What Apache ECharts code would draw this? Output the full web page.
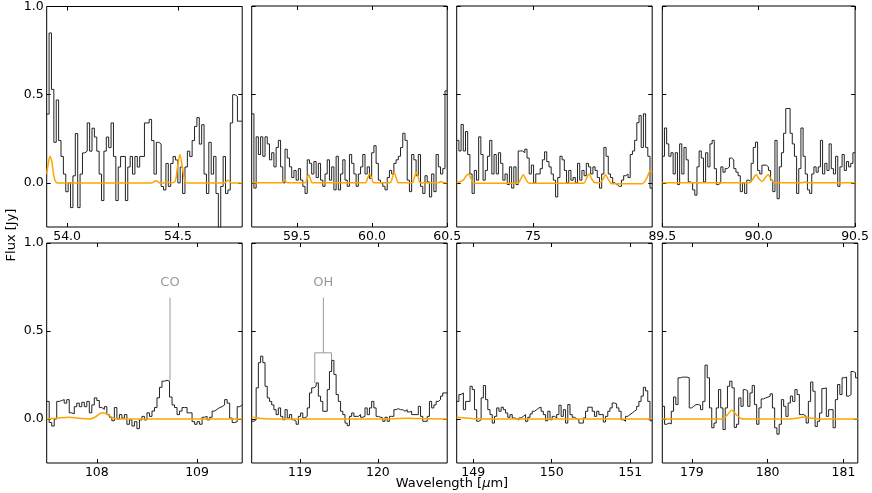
<!DOCTYPE html>
<html>
<head>
<meta charset="utf-8">
<script src="https://cdn.jsdelivr.net/npm/echarts@6/dist/echarts.min.js"></script>
<style>
  html, body { margin: 0; padding: 0; background: #fff; }
  #chart { width: 872px; height: 493px; }
</style>
</head>
<body>
<div id="chart"></div>
<script>
// ============ 数据 ============
// wavelength range of each panel (µm), row by row
const panelRanges = [
  [53.908, 54.79], [59.2, 60.5], [72.05, 79.6], [89.5, 90.5],
  [107.5, 109.45], [118.38, 120.89], [148.79, 151.28], [178.61, 181.19]
];
const xTickValues = [
  [54.0, 54.5], [59.5, 60.0, 60.5], [75], [89.5, 90.0, 90.5],
  [108, 109], [119, 120], [149, 150, 151], [179, 180, 181]
];
const xTickDigits = [1, 1, 0, 1, 0, 0, 0, 0];
const yTickValues = [0.0, 0.5, 1.0];

// observed flux per bin (Jy)
const flux1 = [0.39,0.85,0.53,0.23,0.47,0.24,0.15,0.05,-0.05,0.00,-0.14,0.04,0.28,-0.14,0.05,0.17,0.18,0.34,0.18,0.31,
  0.26,0.18,0.05,-0.10,0.18,0.26,0.20,0.34,0.15,-0.10,0.09,0.15,0.15,-0.10,0.09,0.15,0.05,0.15,0.09,0.15,
  0.15,0.34,0.34,0.36,0.24,0.05,0.23,0.22,-0.02,-0.04,0.11,-0.02,0.11,0.15,0.13,0.00,0.09,-0.06,0.09,0.18,
  0.15,0.24,0.32,0.37,0.22,0.33,0.05,-0.06,0.23,0.05,0.15,-0.06,-0.30,-0.02,0.15,-0.06,-0.04,0.34,0.50,0.49,0.35,0.35];
const flux2 = [0.39,-0.03,0.26,0.16,0.26,0.15,0.26,0.22,0.13,0.17,0.09,0.20,0.24,0.09,0.00,0.19,0.14,0.09,0.03,0.07,
  0.015,0.08,0.015,-0.02,-0.06,0.13,0.11,0.05,0.12,0.03,0.11,0.015,-0.02,0.05,0.13,0.015,0.09,-0.04,0.15,-0.04,
  0.05,0.13,0.015,-0.02,0.16,0.11,0.05,-0.02,0.05,0.09,0.16,0.05,0.09,0.025,0.17,0.21,0.11,0.015,0.00,-0.02,
  -0.04,0.03,0.07,0.05,0.11,0.13,0.15,0.20,0.28,0.24,0.015,-0.05,0.16,0.13,0.04,0.16,-0.02,-0.06,0.04,0.005,
  -0.08,0.05,-0.05,0.16,0.09,0.05,0.08,0.52];
const flux3 = [0.24,0.18,0.33,0.18,0.29,0.16,0.05,-0.06,0.07,0.015,0.26,0.16,0.015,0.07,0.15,0.24,0.05,0.16,0.05,0.17,
  0.11,0.015,0.05,-0.01,0.09,-0.03,0.09,-0.01,0.18,0.18,0.17,0.19,0.14,0.05,0.10,0.00,0.05,0.05,0.08,0.13,
  0.175,0.12,0.09,0.05,0.015,-0.08,0.03,0.15,0.13,0.07,0.00,0.07,0.015,0.03,0.00,0.11,0.015,0.07,0.04,0.11,
  0.09,0.05,0.09,0.07,0.03,-0.03,0.05,0.20,0.15,0.05,0.03,0.00,-0.01,-0.02,-0.02,0.015,0.04,0.05,0.03,0.16,
  0.18,0.24,0.34,0.38,0.20,0.39,0.20,0.15,-0.03];
const flux4 = [0.15,0.31,0.22,0.15,0.17,0.05,0.17,-0.01,0.22,0.05,0.20,0.13,0.005,0.00,-0.04,-0.07,0.09,0.18,0.14,0.005,
  0.17,0.09,0.22,0.24,0.08,-0.01,0.00,0.09,0.06,0.08,0.09,0.14,0.13,0.08,0.06,0.04,-0.05,0.00,-0.06,0.015,
  0.005,0.11,0.20,0.23,0.07,0.05,0.10,0.10,0.09,0.07,0.015,-0.05,0.24,-0.09,0.09,0.17,0.28,0.42,0.42,0.28,
  0.22,0.15,-0.06,0.08,0.31,0.15,0.05,-0.04,-0.06,0.05,0.09,0.06,0.09,0.24,0.05,0.11,0.07,0.22,0.08,0.05,
  0.15,-0.02,0.09,0.16,0.07,0.12,0.09,0.11,0.17];
const flux5 = [0.10,-0.02,-0.04,0.00,0.10,0.105,0.11,0.09,0.11,0.035,0.03,0.07,0.09,0.07,0.095,0.07,0.10,0.035,0.08,0.12,
  0.105,0.065,0.055,0.07,0.025,0.01,-0.01,0.065,0.00,0.025,0.005,0.025,-0.03,-0.005,-0.04,-0.015,-0.055,-0.005,0.015,-0.005,
  0.035,0.015,0.045,0.065,0.12,0.18,0.215,0.22,0.215,0.125,0.08,0.065,0.025,0.045,0.065,0.065,0.035,0.035,-0.015,-0.03,
  -0.015,-0.03,0.01,0.015,-0.005,0.01,0.045,0.055,0.065,0.07,0.08,0.11,0.09,0.005,-0.02,-0.015,0.07,0.08];
const flux6 = [-0.013,-0.004,0.177,0.32,0.357,0.32,0.186,0.12,0.10,0.08,0.053,0.025,0.063,0.015,-0.004,0.053,0.006,0.025,-0.004,-0.013,
  -0.03,0.015,0.034,0.006,0.015,0.063,0.148,0.177,0.186,0.205,0.13,0.10,0.044,0.044,0.167,0.27,0.333,0.253,0.139,0.10,
  0.044,0.025,-0.023,-0.038,0.015,0.034,0.015,0.015,0.025,0.01,0.015,0.063,0.025,0.063,0.10,0.063,0.015,0.01,0.006,-0.013,
  0.01,-0.013,0.015,0.015,0.053,0.059,0.053,0.053,0.044,0.053,0.04,0.044,0.025,0.025,0.025,0.072,0.015,-0.013,-0.013,0.015,
  0.10,0.063,0.08,0.10,0.11,0.13,0.148,0.148];
const flux7 = [0.10,0.139,0.148,0.053,0.10,0.10,0.186,0.167,0.053,-0.013,-0.004,0.12,0.19,0.11,0.053,0.025,-0.023,0.015,0.063,0.044,
  0.067,0.053,0.034,0.01,0.025,0.006,0.002,-0.006,0.006,0.015,0.025,-0.013,0.01,0.029,0.044,0.053,0.063,0.067,0.044,0.025,
  -0.01,0.044,-0.004,0.015,0.006,0.025,0.078,0.015,0.053,-0.023,0.082,0.025,0.01,0.002,-0.004,-0.023,-0.023,0.006,0.044,0.067,
  0.067,0.044,0.015,0.044,0.025,0.025,-0.017,0.015,0.044,0.063,0.091,0.086,0.063,0.044,-0.004,-0.013,0.015,0.025,0.034,0.044,
  0.053,0.072,0.10,0.13,0.18,0.16,0.10,-0.01];
const flux8 = [0.072,-0.03,-0.023,-0.028,0.044,0.125,0.082,0.234,0.238,0.238,0.238,0.234,0.063,0.072,0.082,0.082,0.078,0.053,0.10,0.306,
  0.234,0.063,-0.05,-0.023,0.063,0.167,0.063,-0.06,0.063,0.186,0.215,0.177,-0.048,-0.03,0.12,0.072,0.167,0.16,0.072,0.148,
  0.19,0.082,-0.03,0.063,0.114,0.12,0.124,0.13,0.143,0.063,-0.05,-0.086,-0.03,0.11,0.072,0.015,0.091,0.13,0.10,0.167,
  0.139,0.025,0.025,0.015,-0.023,0.10,0.21,0.158,-0.042,-0.013,0.034,0.173,0.177,0.015,0.053,0.053,-0.05,0.11,0.196,0.139,
  0.234,0.238,0.13,0.139,0.27,0.263,0.234];

// model spectrum, [wavelength, flux]
const model1 = [[53.908,0.05],[53.915,0.11],[53.923,0.15],[53.931,0.12],[53.939,0.05],[53.947,0.01],[53.958,0],
  [54.38,0],[54.40,0.012],[54.42,0],[54.437,0],[54.449,0.01],[54.461,0],[54.485,0.005],[54.497,0.08],[54.509,0.16],
  [54.521,0.08],[54.533,0.005],[54.545,0],[54.71,0],[54.726,0.015],[54.742,0],[54.79,0]];
const model2 = [[59.2,0],[59.40,0],[59.419,0.015],[59.438,0],[59.555,0],[59.567,0.02],[59.579,0.045],[59.591,0.02],
  [59.603,0],[59.955,0],[59.97,0.025],[59.984,0.05],[59.998,0.025],[60.013,0],[60.12,0],[60.134,0.025],[60.148,0.057],
  [60.162,0.025],[60.176,0],[60.267,0],[60.281,0.027],[60.295,0.06],[60.309,0.027],[60.323,0],[60.44,0],[60.459,0.008],
  [60.478,0],[60.5,0]];
const model3 = [[72.05,0],[72.3,0.015],[72.42,0.04],[72.5,0.05],[72.58,0.03],[72.68,0.003],[72.8,-0.003],[74.4,-0.003],
  [74.52,0.02],[74.62,0.045],[74.72,0.02],[74.85,-0.003],[76.95,-0.002],[77.06,0.025],[77.16,0.05],[77.27,0.02],
  [77.4,0.0],[77.58,0.0],[77.7,0.02],[77.80,0.045],[77.9,0.02],[78.05,-0.005],[79.2,-0.005],[79.4,0.03],[79.53,0.07],[79.6,0.06]];
const model4 = [[89.5,0],[89.95,0],[89.972,0.025],[89.987,0.045],[90.0,0.025],[90.018,0.008],[90.035,0.03],[90.049,0.045],
  [90.062,0.025],[90.085,0],[90.22,0],[90.24,0.004],[90.26,0],[90.5,0]];
const model5 = [[107.5,0],[107.6,0.004],[107.72,0.01],[107.84,0.003],[107.92,0.0],[107.98,0.01],[108.03,0.03],
  [108.06,0.035],[108.1,0.028],[108.15,0.01],[108.2,0],[109.45,0]];
const model6 = [[118.38,0.012],[118.42,0.008],[118.5,0.003],[118.6,0],[120.0,0],[120.4,0.004],[120.5,0.003],[120.89,0]];
const model7 = [[148.79,0.01],[148.9,0.005],[149.0,0.002],[149.2,0],[151.28,0]];
const model8 = [[178.61,0],[179.40,0],[179.47,0.025],[179.527,0.05],[179.585,0.025],[179.65,0.003],[179.7,0],[180.3,0],
  [180.40,0.006],[180.48,0.012],[180.56,0.006],[180.66,0],[181.19,0]];

// line identifications: panel, label, line wavelengths, label/stem top, bracket, peak ends
const coLine = { panel: 4, name: 'CO', wl: 108.73, textY: 0.775, top: 0.69, peak: 0.22 };
const ohLine = { panel: 5, name: 'OH', wl: 119.30, legs: [119.19, 119.405], textY: 0.775, top: 0.69, bracket: 0.376, peaks: [0.205, 0.333] };

const fluxes = [flux1, flux2, flux3, flux4, flux5, flux6, flux7, flux8];
const models = [model1, model2, model3, model4, model5, model6, model7, model8];

// ============ 布局 ============
const colLeft = [46.7, 251.7, 456.7, 662.3];
const colWidth = 195.5;
const rowTop = [6, 243];
const rowHeight = [221, 220];
const FONT = 'DejaVu Sans';

function stepData(flux, range) {
  const bw = (range[1] - range[0]) / flux.length;
  const pts = flux.map((v, i) => [range[0] + i * bw, v]);
  pts.push([range[1], flux[flux.length - 1]]);
  return pts;
}

const grids = [], xAxes = [], yAxes = [], series = [];
panelRanges.forEach((range, i) => {
  const col = i % 4, row = Math.floor(i / 4);
  grids.push({
    left: colLeft[col], top: rowTop[row], width: colWidth, height: rowHeight[row],
    show: true, borderColor: '#000', borderWidth: 1, backgroundColor: 'transparent'
  });
  const ticks = xTickValues[i];
  const baseX = {
    type: 'value', gridIndex: i, min: range[0], max: range[1],
    axisLine: { show: false, onZero: false }, splitLine: { show: false },
    axisTick: { show: true, inside: true, length: 4, customValues: ticks, lineStyle: { color: '#000', width: 1 } }
  };
  xAxes.push(Object.assign({}, baseX, {
    position: 'bottom',
    axisLabel: { show: true, customValues: ticks, margin: 3, color: '#000', fontSize: 12.5, fontFamily: FONT,
      formatter: v => Number(v).toFixed(xTickDigits[i]) }
  }));
  xAxes.push(Object.assign({}, baseX, { position: 'top', axisLabel: { show: false } }));
  const baseY = {
    type: 'value', gridIndex: i, min: -0.25, max: 1.0,
    axisLine: { show: false, onZero: false }, splitLine: { show: false },
    axisTick: { show: true, inside: true, length: 4, customValues: yTickValues, lineStyle: { color: '#000', width: 1 } }
  };
  yAxes.push(Object.assign({}, baseY, {
    position: 'left',
    axisLabel: { show: col === 0, customValues: yTickValues, margin: 3, color: '#000', fontSize: 12.5, fontFamily: FONT,
      formatter: v => Number(v).toFixed(1) }
  }));
  yAxes.push(Object.assign({}, baseY, { position: 'right', axisLabel: { show: false } }));

  series.push({
    type: 'line', xAxisIndex: 2 * i, yAxisIndex: 2 * i, step: 'end',
    data: stepData(fluxes[i], range), symbol: 'none', silent: true,
    lineStyle: { color: '#222', width: 1 }, z: 3
  });
  series.push({
    type: 'line', xAxisIndex: 2 * i, yAxisIndex: 2 * i, smooth: 0.35,
    data: models[i], symbol: 'none', silent: true,
    lineStyle: { color: '#ffa500', width: 1.5 }, z: 4
  });
});

// CO stem
series.push({
  type: 'line', xAxisIndex: 2 * coLine.panel, yAxisIndex: 2 * coLine.panel, symbol: 'none', silent: true,
  data: [[coLine.wl, coLine.top], [coLine.wl, coLine.peak]],
  lineStyle: { color: '#999', width: 1 }, z: 2
});
// OH stem + bracket
series.push({
  type: 'line', xAxisIndex: 2 * ohLine.panel, yAxisIndex: 2 * ohLine.panel, symbol: 'none', silent: true, connectNulls: false,
  data: [[ohLine.wl, ohLine.top], [ohLine.wl, ohLine.bracket], null,
    [ohLine.legs[0], ohLine.peaks[0]], [ohLine.legs[0], ohLine.bracket], [ohLine.legs[1], ohLine.bracket], [ohLine.legs[1], ohLine.peaks[1]]],
  lineStyle: { color: '#999', width: 1 }, z: 2
});
// labels
[coLine, ohLine].forEach(l => {
  series.push({
    type: 'scatter', xAxisIndex: 2 * l.panel, yAxisIndex: 2 * l.panel, symbolSize: 0, silent: true,
    data: [[l.wl, l.textY]],
    label: { show: true, formatter: l.name, position: 'inside', color: '#808080', fontSize: 13, fontFamily: FONT }
  });
});

const chart = echarts.init(document.getElementById('chart'));
chart.setOption({
  animation: false,
  backgroundColor: '#fff',
  grid: grids,
  xAxis: xAxes,
  yAxis: yAxes,
  series: series,
  graphic: [
    { type: 'text', x: 12, y: 235, rotation: Math.PI / 2,
      style: { text: 'Flux [Jy]', fill: '#000', font: '13px ' + FONT, textAlign: 'center', textVerticalAlign: 'middle' } },
    { type: 'text', x: 452, y: 484,
      style: { text: 'Wavelength [{i|μ}m]', fill: '#000', font: '13px ' + FONT, textAlign: 'center', textVerticalAlign: 'middle',
        rich: { i: { fontStyle: 'italic', fontSize: 13, fontFamily: FONT } } } }
  ]
});
</script>
</body>
</html>
